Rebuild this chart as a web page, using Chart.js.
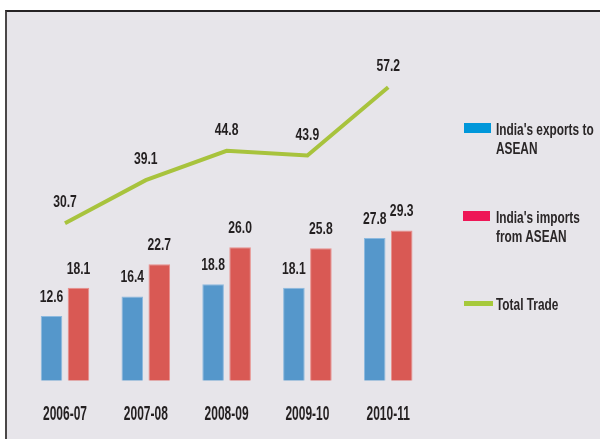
<!DOCTYPE html>
<html>
<head>
<meta charset="utf-8">
<script src="https://cdn.jsdelivr.net/npm/chart.js@4/dist/chart.umd.min.js"></script>
<style>
  html, body { margin: 0; padding: 0; width: 600px; height: 439px; overflow: hidden; background: #ffffff; }
  #frame { position: absolute; left: 5px; top: 10px; width: 600px; height: 440px;
           background: #e7e5ea; border-top: 2px solid #262324; border-left: 2px solid #4a4748; }
  #chart { position: absolute; left: 0; top: 0; }
  .lg-box { position: absolute; }
  .lg-text { position: absolute; left: 496px; font-family: "Liberation Sans", Arial, sans-serif;
             font-weight: bold; font-size: 15px; line-height: 17.4px; color: #2a2627; white-space: nowrap;
             transform: scale(0.79, 1.12); transform-origin: left top; }
</style>
</head>
<body>
<div id="frame"></div>
<canvas id="chart" width="600" height="439"></canvas>

<div class="lg-box" style="left:464px;top:123px;width:27px;height:10px;background:#0097da;"></div>
<div class="lg-text" style="top:118.9px;">India's exports to<br>ASEAN</div>
<div class="lg-box" style="left:463px;top:211px;width:27px;height:10px;background:#ee1656;"></div>
<div class="lg-text" style="top:206.9px;">India's imports<br>from ASEAN</div>
<div class="lg-box" style="left:464px;top:301px;width:29px;height:4.5px;background:#a6c93b;"></div>
<div class="lg-text" style="top:293.7px;">Total Trade</div>

<script>
const categories = ['2006-07', '2007-08', '2008-09', '2009-10', '2010-11'];
const exportsToASEAN = [12.6, 16.4, 18.8, 18.1, 27.8];
const importsFromASEAN = [18.1, 22.7, 26.0, 25.8, 29.3];
const totalTrade = [30.7, 39.1, 44.8, 43.9, 57.2];

const FONT = '"Liberation Sans", Arial, sans-serif';

function drawNarrow(ctx, txt, x, y, size, sx, sy) {
  ctx.save();
  ctx.translate(x, y);
  ctx.scale(sx, sy);
  ctx.font = 'bold ' + size + 'px ' + FONT;
  ctx.fillStyle = '#231f20';
  ctx.textAlign = 'center';
  ctx.textBaseline = 'alphabetic';
  ctx.fillText(txt, 0, 0);
  ctx.restore();
}

const labelsPlugin = {
  id: 'labelsPlugin',
  afterDatasetsDraw(chart) {
    const ctx = chart.ctx;
    // value labels
    chart.data.datasets.forEach((ds, di) => {
      const meta = chart.getDatasetMeta(di);
      meta.data.forEach((el, i) => {
        const txt = ds.data[i].toFixed(1);
        const off = ds.type === 'line' ? 15.8 : 14.3;
        drawNarrow(ctx, txt, el.x, el.y - off, 15, 0.81, 1.155);
      });
    });
    // category labels along the x scale
    const xs = chart.scales.x;
    chart.data.labels.forEach((lab, i) => {
      drawNarrow(ctx, lab, xs.getPixelForValue(i), 420, 17, 0.705, 1.175);
    });
  }
};

new Chart(document.getElementById('chart'), {
  type: 'bar',
  data: {
    labels: categories,
    datasets: [
      {
        type: 'line',
        label: 'Total Trade',
        data: totalTrade,
        borderColor: '#a8c33d',
        borderWidth: 4,
        pointRadius: 0,
        tension: 0,
        fill: false,
        clip: false
      },
      {
        label: "India's exports to ASEAN",
        data: exportsToASEAN,
        backgroundColor: '#5597cb',
        borderColor: '#8cb9df',
        borderWidth: 1,
        categoryPercentage: 0.668,
        barPercentage: 0.8
      },
      {
        label: "India's imports from ASEAN",
        data: importsFromASEAN,
        backgroundColor: '#d95954',
        borderColor: '#e98f8c',
        borderWidth: 1,
        categoryPercentage: 0.668,
        barPercentage: 0.8
      }
    ]
  },
  options: {
    responsive: false,
    animation: false,
    devicePixelRatio: 1,
    layout: { padding: { left: 24.6, right: 171.4, top: 21.6, bottom: 58.3 } },
    plugins: { legend: { display: false }, tooltip: { enabled: false } },
    scales: {
      x: {
        grid: { display: false, drawTicks: false },
        border: { display: false },
        ticks: { display: false }
      },
      y: { display: false, min: 0, max: 70 }
    }
  },
  plugins: [labelsPlugin]
});
</script>
</body>
</html>
